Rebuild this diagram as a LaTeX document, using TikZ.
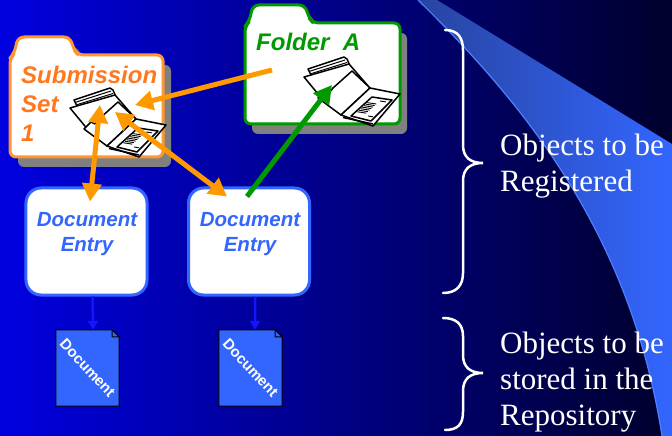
\documentclass[tikz,border=0pt]{standalone}
\usepackage{fontspec}
\setmainfont{Liberation Serif}
\setsansfont{Liberation Sans}
\usetikzlibrary{arrows.meta,calc}

\definecolor{bgleft}{RGB}{0,0,224}
\definecolor{bgright}{RGB}{0,0,44}
\definecolor{swooshdark}{RGB}{40,68,160}
\definecolor{swooshlight}{RGB}{51,102,255}
\definecolor{swooshedge}{RGB}{77,128,255}
\definecolor{entryblue}{RGB}{51,102,255}
\definecolor{setorange}{RGB}{255,150,50}
\definecolor{settext}{RGB}{255,120,30}
\definecolor{arroworange}{RGB}{255,153,0}
\definecolor{foldergreen}{RGB}{0,153,0}
\definecolor{shadowgray}{RGB}{128,128,128}
\definecolor{linkblue}{RGB}{20,20,255}

% outline of a file folder: #1,#2 = top-left of body, #3 = width, #4 = height
\newcommand\folderoutline[4]{%
  (#1,#2+#4) -- (#1,#2+3) -- (#1+4,#2-1) -- (#1+8,#2-18) -- (#1+60,#2-18)
  -- (#1+64,#2-5) -- (#1+68,#2) -- (#1+#3,#2) -- (#1+#3,#2+#4) -- cycle}

\tikzset{
  folderbody/.style={fill=white, line width=3bp, rounded corners=6bp, line join=round},
  foldershadow/.style={fill=shadowgray, rounded corners=6bp},
  folderlabel/.style={font=\fontsize{24bp}{29bp}\selectfont\sffamily\bfseries\itshape,
    align=left, inner sep=0pt, anchor=west},
  entrybox/.style={draw=entryblue, fill=white, line width=3bp, rounded corners=15bp,
    minimum width=121bp, minimum height=107bp},
  entrylabel/.style={font=\fontsize{20.5bp}{25bp}\selectfont\sffamily\bfseries\itshape,
    text=entryblue, align=center, inner sep=0pt},
  docbox/.style={minimum width=63bp, minimum height=76bp, inner sep=0pt},
  docpage/.style={fill=entryblue, draw=black, line width=1bp, line join=round},
  doclabel/.style={font=\fontsize{15bp}{18bp}\selectfont\sffamily\bfseries,
    text=white, rotate=-47, inner sep=0pt},
  orangearrow/.style={draw=arroworange, line width=5bp,
    -{Triangle[length=18bp,width=19bp]}},
  orangeboth/.style={draw=arroworange, line width=5bp,
    {Triangle[length=18bp,width=19bp]}-{Triangle[length=18bp,width=19bp]}},
  greenarrow/.style={draw=foldergreen, line width=5bp,
    -{Triangle[length=18bp,width=19bp]}},
  storelink/.style={draw=linkblue, line width=2.5bp,
    -{Triangle[length=9bp,width=10bp]}},
  brace/.style={draw=white, line width=2.5bp, line cap=round},
  sidetext/.style={font=\fontsize{31bp}{36bp}\selectfont, text=white,
    align=left, inner sep=0pt, anchor=west},
  filer/.pic={
    \begin{scope}[line width=1.5bp, draw=black, fill=white, line join=round]
      % stack of papers on the back cover
      \filldraw (8,15) -- (44,3) -- (47,5) -- (50,12) -- (13,25) -- cycle;
      \draw[line width=1bp] (9,17.5) -- (45,6) (10,20) -- (47,8.5) (11.5,22.5) -- (48.5,11);
      % back cover
      \filldraw (4,23) -- (49,10) -- (69,33) -- (23,46) -- cycle;
      % front flap with its tab
      \filldraw (18,44) -- (25,37) -- (29,39) -- (33,34) -- (52,17) -- (70,34) -- (41,61) -- cycle;
      % open right-hand panel
      \filldraw (41,61) -- (70,34) -- (100,40) -- (73,72) -- cycle;
      \draw (43,63.5) -- (73,70);
      % page lying on the panel
      \filldraw (51,62) -- (72,43) -- (92,46) -- (71,67) -- cycle;
      \foreach \k in {0,...,6}
        \draw[line width=0.9bp] ({57.25+1.68*\k},{57.75-1.52*\k}) -- ++(9,1.4);
      \draw[line width=0.9bp] (80,47) -- ++(6,0.9) (68,62) -- ++(5,0.8);
    \end{scope}
  }
}

\begin{document}
\begin{tikzpicture}[x=1bp,y=-1bp]
  \useasboundingbox (0,0) rectangle (672,436);

  % backdrop
  \shade[left color=bgleft, right color=bgright] (0,0) rectangle (672,436);
  \shade[left color=swooshdark, right color=swooshlight]
    (418,0) -- (437,0) -- (672,144) -- (672,436) -- (662,436)
    .. controls (630,230) and (520,100) .. (418,0) -- cycle;
  \draw[swooshedge, line width=1.2bp] (418,0) .. controls (520,100) and (630,230) .. (662,436);

  % Submission Set folder
  \fill[foldershadow] \folderoutline{18}{65}{153}{102};
  \draw[folderbody, draw=setorange] \folderoutline{10}{55}{153}{102};
  \node[folderlabel, text=settext] (setlabel) at (21,104) {Submission\\Set\\1};
  \pic at (66,85) {filer};

  % Folder A
  \fill[foldershadow] \folderoutline{252}{33}{155}{101};
  \draw[folderbody, draw=foldergreen] \folderoutline{245}{23}{155}{101};
  \node[folderlabel, text=foldergreen] (folderlabel) at (256,42) {Folder\ \ A};
  \pic at (300,54) {filer};

  % arrow end points on the folders
  \coordinate (setin) at (135,105);
  \coordinate (setdown) at (100,105);
  \coordinate (setdiag) at (115,112);
  \coordinate (faout) at (272,70);
  \coordinate (fain) at (332,85);

  % document entries
  \node[entrybox] (de1) at (86.5,241.5) {};
  \node[entrybox] (de2) at (249,241.5) {};
  \node[entrylabel] (de1label) at (87,234) {Document\\Entry};
  \node[entrylabel] (de2label) at (250,234) {Document\\Entry};

  % stored documents
  \node[docbox] (doc1) at (87.5,368) {};
  \node[docbox] (doc2) at (250.5,368) {};
  \foreach \d in {doc1,doc2} {
    \draw[docpage] (\d.south west) -- (\d.north west) -- ([xshift=-7bp]\d.north east)
      -- ([yshift=-7bp]\d.north east) -- (\d.south east) -- cycle;
    \draw[docpage] ([xshift=-7bp]\d.north east) -- ([xshift=-7bp,yshift=-7bp]\d.north east)
      -- ([yshift=-7bp]\d.north east) -- cycle;
  }
  \node[doclabel] (doc1label) at (doc1) {Document};
  \node[doclabel] (doc2label) at (doc2) {Document};

  % links from entries to stored documents
  \draw[storelink] ([xshift=6bp]de1.south) -- ([xshift=5.5bp]doc1.north);
  \draw[storelink] ([xshift=6bp]de2.south) -- ([xshift=4.5bp]doc2.north);

  % associations
  \draw[orangearrow] (faout) -- (setin);
  \draw[orangeboth] (setdown) -- ([xshift=3.5bp,yshift=-15bp]de1.north);
  \draw[orangeboth] (setdiag) -- ([xshift=-22bp,yshift=-10bp]de2.north);
  \draw[greenarrow] ([xshift=-2bp,yshift=-10bp]de2.north) -- (fain);

  % braces and their captions
  \draw[brace] (445,30) .. controls (458,30) and (463,38) .. (463,50) -- (463,145)
    .. controls (463,157) and (470,163) .. (483,163)
    .. controls (470,163) and (463,169) .. (463,181) -- (463,273)
    .. controls (463,286) and (456,293) .. (443,293);
  \draw[brace] (443,318) .. controls (456,318) and (463,324) .. (463,336) -- (463,355)
    .. controls (463,367) and (470,373) .. (483,373)
    .. controls (470,373) and (463,379) .. (463,391) -- (463,412)
    .. controls (463,424) and (458,430) .. (445,430);
  \node[sidetext] (regtext) at (500,166) {Objects to be\\Registered};
  \node[sidetext] (reptext) at (500,382) {Objects to be\\stored in the\\Repository};
\end{tikzpicture}
\end{document}
